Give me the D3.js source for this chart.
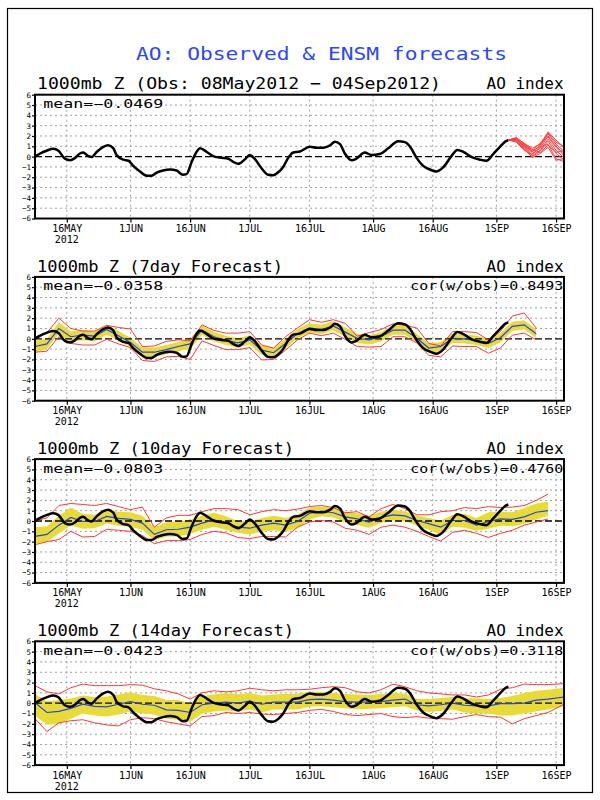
<!DOCTYPE html>
<html><head><meta charset="utf-8">
<script src="https://cdn.jsdelivr.net/npm/d3@7"></script>
<style>body{margin:0;background:#fff} text{font-family:"DejaVu Sans Mono",monospace}</style>
</head><body><svg id="c" width="600" height="800"></svg>
<script>
// ---------- data ----------
const mainTitle = "AO: Observed & ENSM forecasts";
const tickDays = [8,24,39,54,69,85,100,116,131];          // days after 08May2012
const tickLabels = ["16MAY","1JUN","16JUN","1JUL","16JUL","1AUG","16AUG","1SEP","16SEP"];
const yearLabel = "2012";
const yTicks = d3.range(-6,7);

const panelTitles = ["1000mb Z (Obs: 08May2012 \u2212 04Sep2012)","1000mb Z (7day Forecast)","1000mb Z (10day Forecast)","1000mb Z (14day Forecast)"];
const meanLabels = ["mean=\u22120.0469","mean=\u22120.0358","mean=\u22120.0803","mean=\u22120.0423"];
const corLabels = [null,"cor(w/obs)=0.8493","cor(w/obs)=0.4760","cor(w/obs)=0.3118"];

const obsDays = [0,1.3,2.9,4.6,5.9,7.5,8.8,10,11.3,12.1,13.4,14.2,15.5,17.2,18.4,19.7,20.5,22.2,23.5,24.7,26.4,28.1,29.3,30.6,32.2,33.9,35.6,37.1,38.1,39.4,40.6,41.5,43.2,44.8,46.5,48.6,49.8,51.1,52.8,54,55.3,57,58.6,59.9,61.2,62.4,63.7,64.9,66.6,69.1,70.8,72.5,74.2,75.4,76.7,77.9,79.6,80.8,82.9,84.6,86.7,88.8,91.3,93,94.3,95.9,97.6,99.3,100.9,102.6,104.7,106.2,107.7,109.8,111.9,113.5,115.2,116.9,118.2,119];
const obsVals = [0,0.3,0.57,0.75,0.57,-0.2,-0.35,-0.15,0.3,0.4,0.05,-0.05,0.45,0.95,1.1,0.8,0.15,-0.3,-0.4,-0.9,-1.45,-1.85,-1.85,-1.55,-1.35,-1.25,-1.35,-1.75,-1.7,-0.5,0.45,0.8,0.45,0.05,-0.1,-0.2,-0.5,-0.7,-0.25,0.15,-0.25,-1.15,-1.75,-1.8,-1.5,-1.0,-0.1,0.4,0.5,0.95,0.85,0.85,1.1,1.45,1.2,0.3,-0.35,-0.2,0.4,0.15,0.25,0.8,1.5,1.4,0.95,-0.1,-0.9,-1.25,-1.45,-1.05,0.05,0.65,0.45,-0.05,-0.3,-0.4,0.25,0.95,1.45,1.6];

const ensDays = [119,121,123,125,127,129,131,133];
const ensMembers = [
  [1.6,1.8,1.3,0.8,1.2,2.4,1.6,0.9],
  [1.6,1.7,1.1,0.5,1.0,2.2,1.2,0.5],
  [1.6,1.6,1.0,0.3,0.8,2.0,1.0,0.3],
  [1.6,1.75,0.9,0.1,0.6,1.7,0.6,-0.1],
  [1.6,1.5,0.7,0.0,0.5,1.5,0.3,-0.3],
  [1.6,1.65,1.2,0.6,1.3,1.9,0.9,0.1],
  [1.6,1.4,0.6,0.2,0.9,1.2,-0.2,-0.5],
  [1.6,1.85,1.25,0.7,0.4,1.1,0.4,0.6],
  [1.6,1.55,0.8,-0.1,0.3,0.9,-0.35,-0.2],
  [1.6,1.7,1.05,0.45,1.1,2.3,1.4,0.95]
];

// 7-day forecast (every 3 days from day 0)
const days7 = d3.range(0,127,3);
const mean7 = [-0.75,-0.5,1.0,0.2,0.35,0.25,0.9,0.3,-0.35,-1.3,-1.3,-1.05,-0.75,-0.5,0.85,0.2,-0.15,-0.4,-0.1,-1.1,-1.35,-0.45,0.5,1.05,0.9,1.25,0.65,0.05,-0.1,0.2,0.85,0.85,0.05,-0.9,-0.75,0.05,0.0,-0.15,-0.45,0.1,1.2,1.35,0.5];
const hi7 = [-0.2,0.0,1.6,0.7,0.85,0.7,1.35,0.75,0.1,-0.85,-0.85,-0.6,-0.3,0.0,1.3,0.65,0.3,0.05,0.35,-0.65,-0.9,0.0,0.95,1.5,1.35,1.7,1.1,0.5,0.35,0.65,1.3,1.3,0.5,-0.45,-0.3,0.5,0.45,0.3,0.0,0.55,1.65,1.8,0.9];
const lo7 = [-1.3,-1.0,0.5,-0.3,-0.15,-0.25,0.4,-0.15,-0.8,-1.8,-1.8,-1.5,-1.2,-1.0,0.4,-0.25,-0.6,-0.85,-0.55,-1.55,-1.8,-0.9,0.05,0.6,0.45,0.8,0.2,-0.4,-0.55,-0.25,0.4,0.4,-0.4,-1.35,-1.2,-0.4,-0.45,-0.6,-0.9,-0.35,0.75,0.9,0.1];
const redHi7 = [0.1,0.6,2.0,1.0,0.75,0.75,1.3,1.1,0.95,-0.75,-0.7,-0.25,-0.1,-0.2,1.35,0.8,0.55,0.55,0.7,-0.6,-0.9,0.2,1.05,1.85,1.6,1.85,1.5,0.25,0.6,0.9,1.45,1.3,1.05,-0.45,-0.7,0.7,0.7,0.6,-0.1,0.7,2.2,2.5,1.05];
const redLo7 = [-1.3,-1.2,0.2,-0.45,-0.6,-0.6,-0.05,-0.5,-0.85,-2.1,-2.2,-1.75,-1.7,-2.0,-0.2,-0.65,-1.05,-1.05,-0.85,-2.05,-2.0,-1.1,-0.1,0.55,0.3,0.55,-0.05,-0.75,-0.8,-0.75,0.2,0.2,-0.4,-1.6,-1.75,-0.7,-0.75,-0.75,-1.4,-0.9,0.35,0.55,-0.1];

// 10-day forecast
const days10 = d3.range(0,130,3);
const mean10 = [-1.5,-1.3,-0.4,0.35,-0.05,-0.05,0.45,0.25,0.15,-0.2,-1.3,-0.85,-0.8,-0.6,-0.2,0.1,-0.2,-0.6,-0.7,-0.4,-0.2,-0.4,-0.05,0.75,0.95,0.8,0.4,0.2,-0.1,0.35,0.6,0.5,0.05,-0.25,-0.6,0.05,0.05,-0.4,-0.05,0.2,0.15,0.4,0.85,1.0];
const hi10 = [-0.6,-0.5,0.5,1.3,0.7,0.6,1.1,0.9,0.85,0.5,-0.6,-0.15,-0.05,0.1,0.5,0.8,0.45,0.0,-0.05,0.3,0.5,0.3,0.6,1.3,1.4,1.25,0.9,0.75,0.5,0.9,1.1,0.95,0.5,0.3,0.05,0.6,0.7,0.3,0.85,0.9,0.85,1.25,1.7,1.9];
const lo10 = [-2.2,-2.0,-1.2,-0.4,-0.75,-0.7,-0.25,-0.45,-0.55,-0.85,-1.9,-1.5,-1.5,-1.25,-0.85,-0.55,-0.85,-1.15,-1.3,-1.05,-0.9,-1.05,-0.7,0.15,0.45,0.35,-0.15,-0.4,-0.65,-0.2,0.05,0.0,-0.45,-0.85,-1.35,-0.55,-0.65,-0.95,-0.75,-0.45,-0.5,-0.3,0.15,0.5];
const redHi10 = [0.0,0.3,1.5,1.7,1.6,1.5,1.7,1.4,1.1,1.35,-0.6,0.3,0.55,0.55,0.9,1.2,1.2,1.1,0.6,0.9,1.1,1.0,1.15,1.4,1.5,1.3,0.8,0.9,0.4,1.2,1.6,1.2,0.6,0.6,0.9,1.0,1.3,1.2,1.4,1.3,1.35,1.5,2.0,2.6];
const redLo10 = [-2.3,-2.0,-1.8,-1.0,-1.55,-1.5,-0.8,-0.9,-1.0,-1.4,-2.2,-1.9,-1.9,-1.8,-1.3,-1.0,-1.15,-1.6,-1.7,-1.5,-1.5,-1.55,-0.6,-0.1,0.05,-0.1,-0.7,-0.9,-1.3,-0.6,-0.4,-0.6,-1.0,-1.5,-1.95,-1.1,-0.9,-1.2,-1.6,-1.2,-0.9,-0.4,-0.1,0.2];

// 14-day forecast
const days14 = [0,3,6,9,12,15,18,21,24,27,30,33,36,39,42,45,48,51,54,57,60,63,66,69,72,75,78,81,84,87,90,93,96,99,102,105,108,111,114,117,120,123,126,129,133];
const mean14 = [0.05,-0.9,-0.8,-0.5,-0.1,-0.3,-0.35,-0.1,0.15,-0.1,-0.2,-0.65,-0.7,-0.9,-0.15,0.0,0.1,0.0,0.2,-0.1,0.1,0.1,0.1,0.35,0.4,0.3,0.15,0.1,0.1,0.15,0.3,0.4,-0.15,-0.25,-0.15,0.0,-0.2,-0.25,-0.25,-0.05,-0.05,0.0,0.3,0.4,0.6];
const hi14 = [0.9,0.2,0.3,0.45,0.75,0.6,0.65,0.85,1.05,0.8,0.7,0.3,0.3,0.0,0.7,0.85,1.0,0.9,1.0,0.75,0.85,0.9,0.95,1.1,1.1,1.0,0.9,0.85,0.8,0.9,1.0,0.95,0.4,0.4,0.5,0.6,0.5,0.45,0.4,0.5,0.7,1.0,1.2,1.3,1.5];
const lo14 = [-1.2,-2.1,-2.0,-1.5,-1.0,-1.2,-1.3,-1.1,-0.8,-1.0,-1.1,-1.5,-1.6,-1.8,-1.0,-0.8,-0.7,-0.8,-0.6,-0.9,-0.6,-0.6,-0.6,-0.35,-0.3,-0.4,-0.5,-0.6,-0.55,-0.5,-0.4,-0.3,-0.7,-0.85,-0.75,-0.6,-0.9,-1.0,-1.0,-1.2,-1.2,-1.0,-0.8,-0.6,-0.3];
const redHi14 = [1.7,1.1,0.9,1.5,1.85,1.7,1.7,1.7,1.8,1.75,1.4,1.2,0.9,0.4,1.0,1.2,1.1,1.2,1.45,1.3,1.2,1.3,1.3,1.35,1.5,1.6,1.5,1.1,1.0,1.3,1.85,1.6,1.2,1.0,0.9,0.8,0.8,0.6,0.8,1.35,1.5,1.85,1.8,1.8,1.9];
const redLo14 = [-1.5,-2.75,-1.9,-1.7,-1.6,-1.9,-2.1,-2.2,-1.6,-1.4,-1.5,-1.8,-2.0,-2.2,-1.3,-1.2,-0.9,-1.0,-0.9,-1.05,-1.1,-1.0,-0.9,-0.7,-0.6,-0.8,-1.1,-1.2,-1.1,-1.0,-1.3,-1.4,-1.3,-1.45,-1.5,-1.55,-1.3,-1.1,-1.3,-1.35,-2.0,-1.5,-1.2,-0.9,-0.1];

// ---------- drawing ----------
const forecasts = [null,
  {days:days7, mean:mean7, hi:hi7, lo:lo7, rhi:redHi7, rlo:redLo7},
  {days:days10, mean:mean10, hi:hi10, lo:lo10, rhi:redHi10, rlo:redLo10},
  {days:days14, mean:mean14, hi:hi14, lo:lo14, rhi:redHi14, rlo:redLo14}];
const titleLen = [404,246,257,257];

const svg = d3.select("#c");
svg.append("rect").attr("x",7.5).attr("y",8.5).attr("width",585).attr("height",784)
  .attr("fill","none").attr("stroke","#000").attr("stroke-width",1.2);
svg.append("text").attr("x",136).attr("y",59.5).attr("fill","#2a46ff").attr("font-size",18.5)
  .attr("textLength",371).attr("lengthAdjust","spacingAndGlyphs").text(mainTitle);

const L = 35, R = 564, H = 123.8;
const x = d3.scaleLinear().domain([0,133]).range([L,R]);

panelTitles.forEach((title,i)=>{
  const top = 94.7 + i*182.2;
  const y = d3.scaleLinear().domain([-6,6]).range([top+H, top]);
  const g = svg.append("g");
  const cid = "clip"+i;
  g.append("clipPath").attr("id",cid).append("rect").attr("x",L).attr("y",top).attr("width",R-L).attr("height",H);

  // grid
  g.append("g").selectAll("line").data(yTicks.filter(v=>v!==0 && Math.abs(v)<6)).join("line")
    .attr("x1",L).attr("x2",R).attr("y1",d=>y(d)).attr("y2",d=>y(d))
    .attr("stroke","#a0a0a0").attr("stroke-width",1).attr("stroke-dasharray","2,3");
  g.append("g").selectAll("line").data(tickDays).join("line")
    .attr("x1",d=>x(d)).attr("x2",d=>x(d)).attr("y1",top).attr("y2",top+H)
    .attr("stroke","#a0a0a0").attr("stroke-width",1).attr("stroke-dasharray","2,3");

  const plot = g.append("g").attr("clip-path",`url(#${cid})`);
  const fc = forecasts[i];
  if (fc) {
    const area = d3.area().x((d,k)=>x(fc.days[k])).y0((d,k)=>y(fc.lo[k])).y1((d,k)=>y(fc.hi[k]));
    plot.append("path").datum(fc.mean).attr("d",area).attr("fill","#e8dc34");
  }
  // zero line
  plot.append("line").attr("x1",L).attr("x2",R).attr("y1",y(0)).attr("y2",y(0))
    .attr("stroke","#000").attr("stroke-width",1.3).attr("stroke-dasharray","7,3");
  if (fc) {
    const ln = arr => d3.line().x((d,k)=>x(fc.days[k])).y(d=>y(d))(arr);
    plot.append("path").attr("d",ln(fc.rhi)).attr("fill","none").attr("stroke","#ff3838").attr("stroke-width",1);
    plot.append("path").attr("d",ln(fc.rlo)).attr("fill","none").attr("stroke","#ff3838").attr("stroke-width",1);
    plot.append("path").attr("d",ln(fc.mean)).attr("fill","none").attr("stroke","#2040ff").attr("stroke-width",1.2);
  }
  const obsLine = d3.line().x((d,k)=>x(obsDays[k])).y(d=>y(d)).curve(d3.curveMonotoneX);
  plot.append("path").attr("d",obsLine(obsVals)).attr("fill","none").attr("stroke","#000").attr("stroke-width",2.5).attr("stroke-linejoin","round");
  if (i===0) {
    const el = d3.line().x((d,k)=>x(ensDays[k])).y(d=>y(d));
    plot.append("g").selectAll("path").data(ensMembers).join("path")
      .attr("d",el).attr("fill","none").attr("stroke","#ff4040").attr("stroke-width",1);
  }

  // axes
  const xa = g.append("g").attr("transform",`translate(0,${top+H})`)
    .call(d3.axisBottom(x).tickValues(tickDays).tickFormat((d,k)=>tickLabels[k]).tickSize(4).tickPadding(2.5));
  xa.select(".domain").remove();
  xa.selectAll("line").attr("stroke","#000").attr("stroke-width",1.2);
  xa.selectAll("text").attr("font-size",10).attr("font-family","DejaVu Sans Mono").attr("fill","#000");
  g.append("text").attr("x",x(tickDays[0])).attr("y",top+H+24.5).attr("text-anchor","middle")
    .attr("font-size",10).text(yearLabel);

  const ya = g.append("g").attr("transform",`translate(${L},0)`)
    .call(d3.axisLeft(y).tickValues(yTicks).tickSize(3).tickPadding(1));
  ya.select(".domain").remove();
  ya.selectAll("line").attr("stroke","#000").attr("stroke-width",1.2);
  ya.selectAll("text").attr("font-size",7.5).attr("font-family","DejaVu Sans Mono").attr("fill","#000");

  // border
  g.append("rect").attr("x",L).attr("y",top).attr("width",R-L).attr("height",H)
    .attr("fill","none").attr("stroke","#000").attr("stroke-width",2);

  // texts
  g.append("text").attr("x",37).attr("y",top-5.3).attr("font-size",16)
    .attr("textLength",titleLen[i]).attr("lengthAdjust","spacingAndGlyphs").text(title);
  g.append("text").attr("x",563.5).attr("y",top-5.3).attr("font-size",16).attr("text-anchor","end")
    .attr("textLength",77).attr("lengthAdjust","spacingAndGlyphs").text("AO index");
  g.append("text").attr("x",43.3).attr("y",top+13.5).attr("font-size",12)
    .attr("textLength",120).attr("lengthAdjust","spacingAndGlyphs").text(meanLabels[i]);
  if (corLabels[i]) {
    g.append("text").attr("x",563.3).attr("y",top+13.5).attr("font-size",12).attr("text-anchor","end")
      .attr("textLength",153).attr("lengthAdjust","spacingAndGlyphs").text(corLabels[i]);
  }
});
</script></body></html>
